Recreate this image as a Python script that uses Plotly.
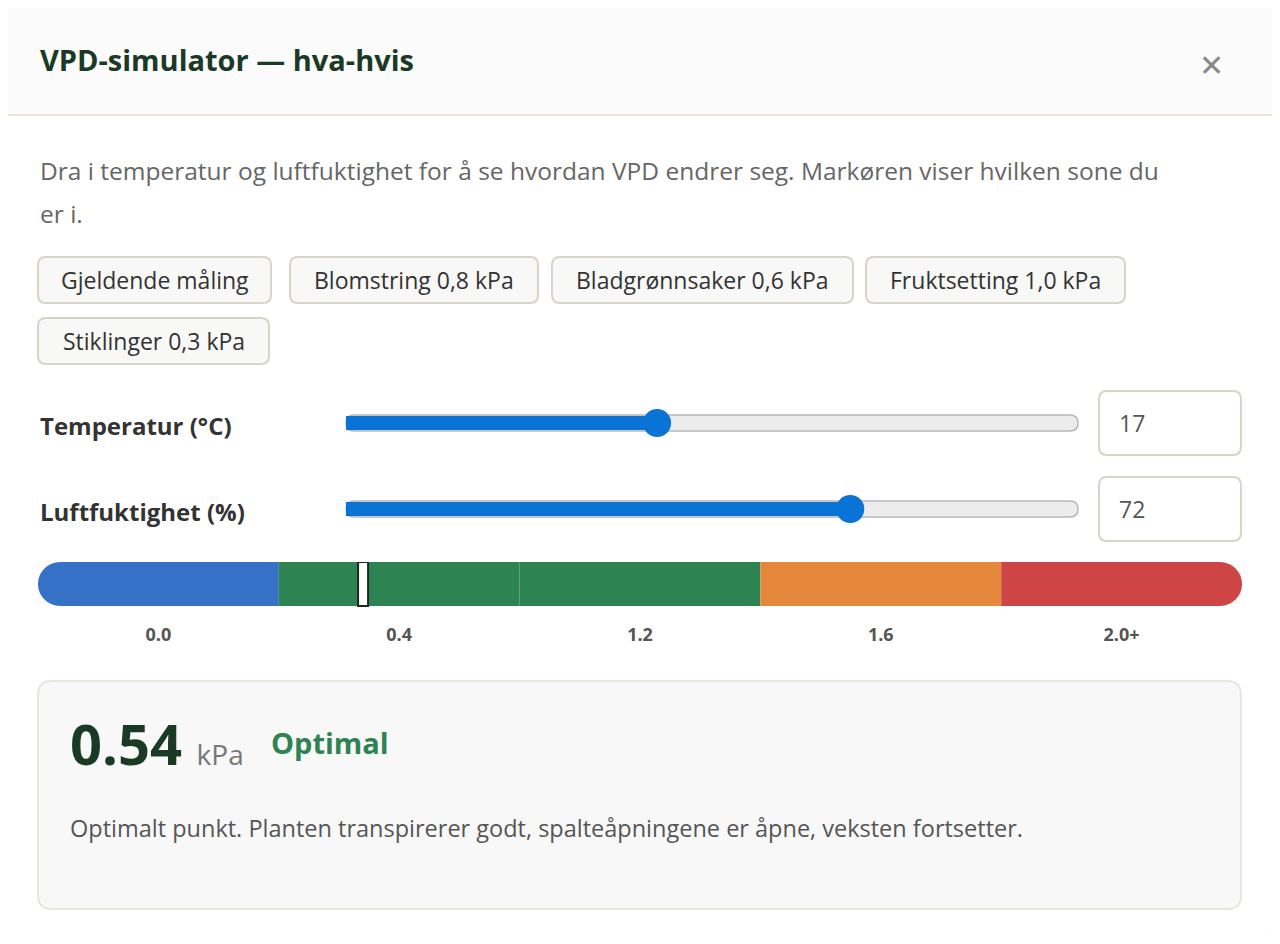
import plotly.graph_objects as go

# page has an 8px body margin, so the figure is drawn 8px in
OFF = 8
W, H = 1280 - 2 * OFF, 944 - 2 * OFF

# --- DATA ---
zone_labels = ["0.0", "0.4", "1.2", "1.6", "2.0+"]
zone_colors = ["#3571c6", "#2e8352", "#2e8352", "#e5883b", "#cf4444"]
zone_widths = [1, 1, 1, 1, 1]
marker_pos = 1.35  # position of current VPD on the zone scale

presets = ["Gjeldende måling", "Blomstring 0,8 kPa", "Bladgrønnsaker 0,6 kPa",
           "Fruktsetting 1,0 kPa", "Stiklinger 0,3 kPa"]
temp_range = [0, 40]
temp_value = 17
hum_range = [10, 100]
hum_value = 72
vpd_value = 0.54
vpd_status = "Optimal"


def px(x):
    return (x - OFF) / W


def py(y):
    return 1 - (y - OFF) / H


FONT = "Open Sans, Noto Sans, sans-serif"
fig = go.Figure()
shapes = []
ann = []


def rect(x0, y0, x1, y1, fill, line=None, lw=1, r=None):
    if r:
        p = (f"M {px(x0+r)},{py(y0)} L {px(x1-r)},{py(y0)} Q {px(x1)},{py(y0)} {px(x1)},{py(y0+r)} "
             f"L {px(x1)},{py(y1-r)} Q {px(x1)},{py(y1)} {px(x1-r)},{py(y1)} "
             f"L {px(x0+r)},{py(y1)} Q {px(x0)},{py(y1)} {px(x0)},{py(y1-r)} "
             f"L {px(x0)},{py(y0+r)} Q {px(x0)},{py(y0)} {px(x0+r)},{py(y0)} Z")
        shapes.append(dict(type="path", path=p, xref="paper", yref="paper", fillcolor=fill,
                           line=dict(color=line or fill, width=lw if line else 0), layer="below"))
    else:
        shapes.append(dict(type="rect", x0=px(x0), x1=px(x1), y0=py(y0), y1=py(y1),
                           xref="paper", yref="paper", fillcolor=fill,
                           line=dict(color=line or fill, width=lw if line else 0), layer="below"))


def text(x, y, s, size, color, xanchor="left", bold=False):
    ann.append(dict(x=px(x), y=py(y), xref="paper", yref="paper", text=f"<b>{s}</b>" if bold else s,
                    showarrow=False, xanchor=xanchor, yanchor="middle",
                    font=dict(size=size, color=color, family=FONT)))


# modal
rect(0, 0, 1280, 944, "#ece6d8")
rect(2, 2, 1278, 942, "#ffffff", r=26)
rect(2, 2, 1278, 115, "#fbfbfb", r=26)
rect(2, 60, 1278, 115, "#fbfbfb")
shapes.append(dict(type="line", x0=px(2), x1=px(1278), y0=py(115), y1=py(115),
                   xref="paper", yref="paper", line=dict(color="#ece6d8", width=2)))
text(38, 60, "VPD-simulator — hva-hvis", 29, "#1b3a26", bold=True)
text(1211, 65, "✕", 30, "#888888", xanchor="center")

text(38, 171, "Dra i temperatur og luftfuktighet for å se hvordan VPD endrer seg. Markøren viser hvilken sone du", 24.5, "#666666")
text(38, 213, "er i.", 24.5, "#666666")

# preset buttons
btn_x = [(38, 271, 280), (290, 538, 280), (552, 853, 280), (866, 1125, 280), (38, 269, 341)]
for (x0, x1, yc), lab in zip(btn_x, presets):
    rect(x0, yc - 23, x1, yc + 23, "#f8f8f7", line="#d8d4c8", lw=2, r=8)
    text((x0 + x1) / 2, yc, lab, 23, "#333333", xanchor="center")

# slider labels and value boxes
text(38, 425, "Temperatur (°C)", 24, "#333333", bold=True)
text(38, 511, "Luftfuktighet (%)", 24, "#333333", bold=True)
for yc, v in [(423, temp_value), (509, hum_value)]:
    rect(1099, yc - 32, 1241, yc + 32, "#ffffff", line="#d8d4c8", lw=2, r=8)
    text(1117, yc, str(v), 23, "#555555")
    rect(346, yc - 8, 1078, yc + 8, "#ececec", line="#b8b8b8", lw=1.5, r=8)

# sliders drawn on their own axes
for ax, rng, val in [("x2", temp_range, temp_value), ("x3", hum_range, hum_value)]:
    yax = "y2" if ax == "x2" else "y3"
    fig.add_scatter(x=[rng[0], val], y=[0, 0], xaxis=ax, yaxis=yax, mode="lines",
                    line=dict(color="#0a74d6", width=14), hoverinfo="skip", showlegend=False,
                    cliponaxis=False)
    fig.add_scatter(x=[val], y=[0], xaxis=ax, yaxis=yax, mode="markers",
                    marker=dict(color="#0a74d6", size=28), hoverinfo="skip", showlegend=False,
                    cliponaxis=False)

# zone bar (ends trimmed by the corner radius, then capped with circles)
R = 22
trim = R / 241
total = sum(zone_widths)
base = 0
for i, (w, c) in enumerate(zip(zone_widths, zone_colors)):
    b0 = base + (trim if i == 0 else 0)
    b1 = base + w - (trim if i == len(zone_widths) - 1 else 0)
    fig.add_bar(x=[b1 - b0], y=[0], base=[b0], orientation="h", marker=dict(color=c, line=dict(width=0)),
                width=1, hoverinfo="skip", showlegend=False)
    base += w
centers = [i + 0.5 for i in range(len(zone_labels))]
fig.add_scatter(x=centers, y=[-1.2] * len(centers), mode="text",
                text=[f"<b>{s}</b>" for s in zone_labels],
                textfont=dict(size=18, color="#555555", family=FONT), hoverinfo="skip", showlegend=False)
for xa, c in [(trim, zone_colors[0]), (total - trim, zone_colors[-1])]:
    shapes.append(dict(type="circle", xref="x", yref="y", xsizemode="pixel", ysizemode="pixel",
                       xanchor=xa, yanchor=0, x0=-R, x1=R, y0=-R, y1=R,
                       fillcolor=c, line=dict(width=0)))
shapes.append(dict(type="rect", xref="x", yref="y", xsizemode="pixel", ysizemode="pixel",
                   xanchor=marker_pos, yanchor=0, x0=-5, x1=5, y0=-R, y1=R,
                   fillcolor="#ffffff", line=dict(color="#1b2a20", width=2)))

# result card
rect(38, 681, 1241, 909, "#f8f8f8", line="#e8e6dc", lw=2, r=14)
ann.append(dict(x=px(68), y=py(743), xref="paper", yref="paper", showarrow=False,
                xanchor="left", yanchor="middle",
                text=f"<b>{vpd_value:.2f}</b> <span style='font-size:28px;color:#777'>kPa</span>",
                font=dict(size=56, color="#1b3a26", family=FONT)))
text(269, 742, vpd_status, 29, "#2e8352", bold=True)
text(68, 828, "Optimalt punkt. Planten transpirerer godt, spalteåpningene er åpne, veksten fortsetter.", 23.5, "#555555")

hidden = dict(visible=False, fixedrange=True)
fig.update_layout(
    width=W, height=H, margin=dict(l=0, r=0, t=0, b=0),
    paper_bgcolor="#ece6d8", plot_bgcolor="rgba(0,0,0,0)",
    barmode="overlay", shapes=shapes, annotations=ann,
    xaxis=dict(hidden, domain=[px(38), px(1242)], range=[0, total]),
    yaxis=dict(hidden, domain=[py(650), py(562)], range=[-1.5, 0.5]),
    xaxis2=dict(hidden, domain=[px(346), px(1078)], range=temp_range),
    yaxis2=dict(hidden, domain=[py(443), py(403)], range=[-1, 1]),
    xaxis3=dict(hidden, domain=[px(346), px(1078)], range=hum_range),
    yaxis3=dict(hidden, domain=[py(529), py(489)], range=[-1, 1]),
)
fig.write_html("out.html")
